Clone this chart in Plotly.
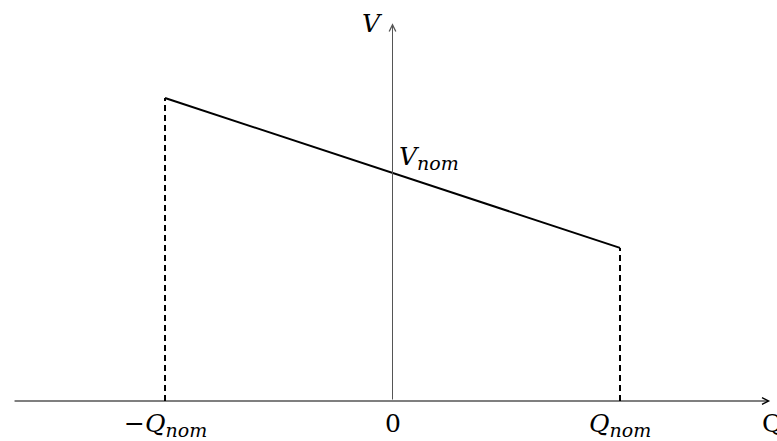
import plotly.graph_objects as go

# Data (normalized units: Q_nom = 1, V_nom = 1)
q_points = [-1.0, 1.0]
v_points = [1.332, 0.673]
v_nom = 1.0
x_axis_extent = [-1.668, 1.66]
y_axis_extent = [0.0, 1.66]
x_tick_vals = [-1.0, 0.0, 1.0]
SUB = "<sub><span style='font-size:19px'><i>nom</i></span></sub>"
x_tick_text = ["−<i>Q</i>" + SUB, "0", "<i>Q</i>" + SUB]

FONT = "DejaVu Serif"
FS = 25
fig = go.Figure()

# droop line
fig.add_trace(go.Scatter(x=q_points, y=v_points, mode="lines",
                         line=dict(color="black", width=2), hoverinfo="skip"))
# dashed verticals
for q, v in zip(q_points, v_points):
    fig.add_trace(go.Scatter(x=[q, q], y=[0, v], mode="lines",
                             line=dict(color="black", width=2, dash="6px,4px"),
                             hoverinfo="skip"))

# axes with arrows
fig.add_annotation(x=x_axis_extent[1], y=0, ax=x_axis_extent[0], ay=0,
                   xref="x", yref="y", axref="x", ayref="y", text="",
                   showarrow=True, arrowhead=5, arrowsize=1.1, arrowwidth=1.2,
                   arrowcolor="black")
fig.add_annotation(x=0, y=y_axis_extent[1], ax=0, ay=y_axis_extent[0],
                   xref="x", yref="y", axref="x", ayref="y", text="",
                   showarrow=True, arrowhead=5, arrowsize=1.3, arrowwidth=1,
                   arrowcolor="#555")

# tick labels
for xv, t in zip(x_tick_vals, x_tick_text):
    fig.add_annotation(x=xv, y=0, xref="x", yref="y", text=t, showarrow=False,
                       yanchor="top", yshift=-6,
                       font=dict(family=FONT, size=FS, color="black"))
# axis labels
fig.add_annotation(x=1.6154, y=0, xref="x", yref="y", text="Q",
                   showarrow=False, xanchor="left", yanchor="top", yshift=-6,
                   font=dict(family=FONT, size=FS, color="black"))
fig.add_annotation(x=0, y=y_axis_extent[1], xref="x", yref="y", text="<i>V</i>",
                   showarrow=False, xanchor="right", xshift=-8, yshift=0,
                   font=dict(family=FONT, size=FS, color="black"))
fig.add_annotation(x=0, y=v_nom, xref="x", yref="y",
                   text="<i>V</i>" + SUB,
                   showarrow=False, xanchor="left", yanchor="bottom", xshift=4, yshift=-2,
                   font=dict(family=FONT, size=FS, color="black"))

fig.update_layout(
    width=777, height=441,
    margin=dict(l=0, r=0, t=0, b=0),
    paper_bgcolor="white", plot_bgcolor="white",
    showlegend=False,
    xaxis=dict(range=[-1.7253, 1.6901], visible=False, fixedrange=True),
    yaxis=dict(range=[-0.1758, 1.7626], visible=False, fixedrange=True),
)
fig.write_html("out.html", config={"displayModeBar": False},
               post_script="document.body.style.margin='0';document.body.style.overflow='hidden';")
